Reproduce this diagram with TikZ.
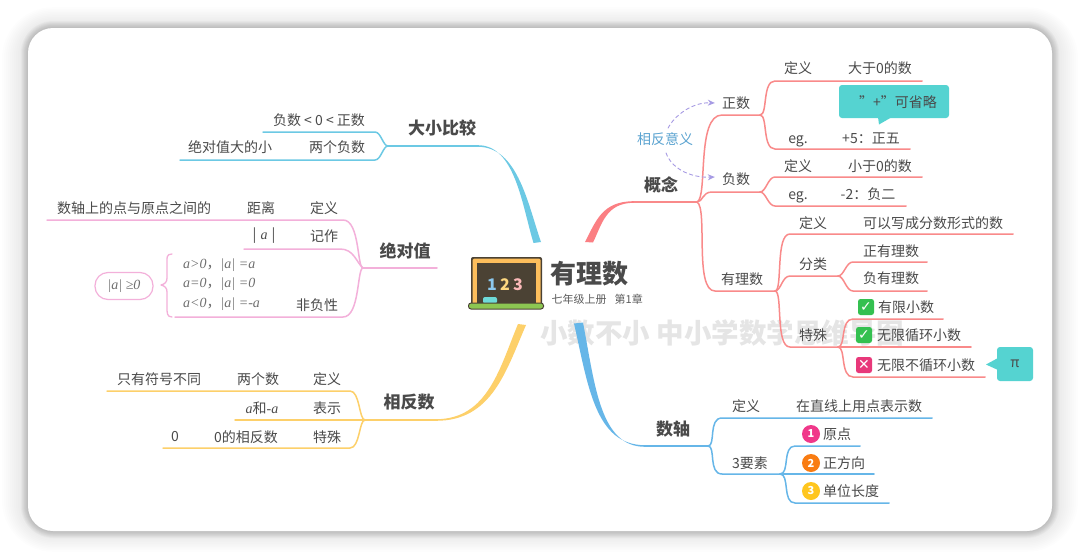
\documentclass[tikz,border=0pt]{standalone}
\usepackage{fontspec}
\setmainfont{Noto Sans CJK SC}
\newfontfamily\formfont{Liberation Serif}
\newfontfamily\symfont{DejaVu Sans}
\usetikzlibrary{arrows.meta,calc}
\definecolor{ink}{HTML}{4A4A4A}
\definecolor{cRed}{HTML}{F98A8A}
\definecolor{cRedT}{HTML}{FB7F83}
\definecolor{cSky}{HTML}{6CC9E4}
\definecolor{cPink}{HTML}{F3B0DA}
\definecolor{cYel}{HTML}{FDD06A}
\definecolor{cBlu}{HTML}{66B6E8}
\definecolor{cTeal}{HTML}{55D3D1}
\definecolor{cPur}{HTML}{A79BE4}
\definecolor{cFrame}{HTML}{FDBE5C}
\definecolor{cBoard}{HTML}{4B4234}
\definecolor{cBase}{HTML}{8CC652}
\definecolor{cOk}{HTML}{34C050}
\definecolor{cNo}{HTML}{E8387A}
\definecolor{cN1}{HTML}{F0388A}
\definecolor{cN2}{HTML}{F97C12}
\definecolor{cN3}{HTML}{FFC61E}
\newcommand{\fsz}[1]{\fontsize{#1}{#1}\selectfont}
\newcommand{\fm}[1]{{\formfont\itshape #1}}
\tikzset{
  x=1pt,y=-1pt,
  txt/.style={text=ink,font=\fsz{14},inner sep=0pt,anchor=center},
  head/.style={text=ink,font=\fsz{17}\bfseries,inner sep=0pt,anchor=center},
  frm/.style={text=ink!80,font=\fsz{14},inner sep=0pt,anchor=west},
  br/.style={line width=1.5pt,line cap=round,line join=round},
  callout/.style={fill=cTeal,draw=none,rounded corners=3pt},
  okbox/.style={fill=#1,draw=none,rounded corners=2.5pt,minimum size=16pt,inner sep=0pt},
  numdot/.style={circle,fill=#1,draw=none,minimum size=18pt,inner sep=0pt,text=white,font=\fsz{11}\bfseries},
  relarc/.style={-{Stealth[length=7pt,width=6pt]},cPur,line width=0.9pt,dash pattern=on 4pt off 2.5pt},
}
\begin{document}
\begin{tikzpicture}
\useasboundingbox (0,0) rectangle (1080,560);
\fill[white] (0,0) rectangle (1080,560);
% card shadow
\foreach \d in {26,24,...,2}{
  \pgfmathsetmacro{\rr}{25+\d}
  \fill[black,opacity=0.009,rounded corners=\rr pt] (28-\d,28-\d*0.8) rectangle (1052+\d,531+\d*0.8);
}
\foreach \d in {7,6,...,1}{
  \pgfmathsetmacro{\rr}{25+\d}
  \fill[black,opacity=0.022,rounded corners=\rr pt] (28-\d,28-\d) rectangle (1052+\d,531+\d);
}
\fill[white,rounded corners=25pt] (28,28) rectangle (1052,531);
% watermark
\node[text=black!10,font=\fsz{27.5}\bfseries,inner sep=0pt,anchor=west] (wm) at (540,333) {小数不小 中小学数学思维导图};

% ---- trunks
\fill[cSky] (533.5,243) .. controls (522,205) and (515,145.2) .. (478,145.2) -- (478,146.8) .. controls (518,146.8) and (528,205) .. (541,242) -- cycle;
\fill[cRedT] (585,242) .. controls (596,221) and (602,201.2) .. (634,201.2) -- (634,202.8) .. controls (606,202.8) and (602,224) .. (593,242.5) -- cycle;
\fill[cYel] (518,324) .. controls (500,367) and (488,419.2) .. (436,419.2) -- (436,420.8) .. controls (492,420.8) and (506,371) .. (526,325) -- cycle;
\fill[cBlu] (574,323.5) .. controls (588,385) and (595,445.2) .. (645,445.2) -- (645,446.8) .. controls (600,446.8) and (595,385) .. (583,322.5) -- cycle;

% ---- junctions (named points)
\coordinate (kS) at (478,146); \coordinate (kF) at (388,146);
\coordinate (k1a) at (375,132); \coordinate (k1b) at (263,132);
\coordinate (k2a) at (375,160); \coordinate (k2b) at (180,160);
\coordinate (jS) at (437,268); \coordinate (jF) at (363,268);
\coordinate (j1a) at (343,220); \coordinate (j1b) at (47,220);
\coordinate (j2a) at (340,249); \coordinate (j2b) at (244,249);
\coordinate (j3a) at (343,317); \coordinate (j3b) at (175,317);
\coordinate (xS) at (436,420); \coordinate (xF) at (365,420);
\coordinate (x1a) at (350,391); \coordinate (x1b) at (107,391);
\coordinate (x2b) at (235,420);
\coordinate (x3a) at (350,448); \coordinate (x3b) at (163,448);
\coordinate (gS) at (634,202); \coordinate (gF) at (697,202);
\coordinate (zF) at (760,115); \coordinate (z0) at (722,115);
\coordinate (z1a) at (775,81); \coordinate (z1b) at (922,81);
\coordinate (z2a) at (775,149); \coordinate (z2b) at (910,149);
\coordinate (fF) at (760,192); \coordinate (f0) at (712,192);
\coordinate (f1a) at (775,177); \coordinate (f1b) at (922,177);
\coordinate (f2a) at (775,206); \coordinate (f2b) at (906,206);
\coordinate (yF) at (775,291); \coordinate (y0) at (715,291);
\coordinate (y1a) at (790,234); \coordinate (y1b) at (1013,234);
\coordinate (y2a) at (790,276); \coordinate (y2F) at (838,276);
\coordinate (y3a) at (790,347); \coordinate (y3F) at (838,347);
\coordinate (c1a) at (853,262); \coordinate (c1b) at (927,262);
\coordinate (c2a) at (853,291); \coordinate (c2b) at (927,291);
\coordinate (s1a) at (853,319); \coordinate (s1b) at (943,319);
\coordinate (s2b) at (971,347);
\coordinate (s3a) at (853,377); \coordinate (s3b) at (985,377);
\coordinate (nS) at (645,446); \coordinate (nF) at (708,446);
\coordinate (n1a) at (722,418); \coordinate (n1b) at (932,418);
\coordinate (n2a) at (722,474); \coordinate (n2F) at (780,474);
\coordinate (m1a) at (795,446); \coordinate (m1b) at (860,446);
\coordinate (m2b) at (874,474);
\coordinate (m3a) at (795,503); \coordinate (m3b) at (889,503);

% ---- 大小比较
\draw[br,cSky] (kS) -- (kF);
\draw[br,cSky] (kF) .. controls (383,146) and (381,132) .. (k1a) -- (k1b);
\draw[br,cSky] (kF) .. controls (383,146) and (381,160) .. (k2a) -- (k2b);
% ---- 绝对值
\draw[br,cPink] (jS) -- (jF);
\draw[br,cPink] (jF) .. controls (357,268) and (360,220) .. (j1a) -- (j1b);
\draw[br,cPink] (jF) .. controls (356,262) and (354,249) .. (j2a) -- (j2b);
\draw[br,cPink] (jF) .. controls (357,268) and (360,317) .. (j3a) -- (j3b);
% ---- 相反数
\draw[br,cYel] (xS) -- (x2b);
\draw[br,cYel] (xF) .. controls (359,420) and (360,391) .. (x1a) -- (x1b);
\draw[br,cYel] (xF) .. controls (359,420) and (360,448) .. (x3a) -- (x3b);
% ---- 概念
\draw[br,cRed] (gS) -- (gF);
\draw[br,cRed] (gF) .. controls (708,198) and (696,115) .. (z0) -- (zF);
\draw[br,cRed] (gF) .. controls (703,202) and (702,192) .. (f0) -- (fF);
\draw[br,cRed] (gF) .. controls (708,208) and (694,291) .. (y0) -- (yF);
\draw[br,cRed] (zF) .. controls (768,115) and (762,81) .. (z1a) -- (z1b);
\draw[br,cRed] (zF) .. controls (768,115) and (762,149) .. (z2a) -- (z2b);
\draw[br,cRed] (fF) .. controls (766,192) and (768,177) .. (f1a) -- (f1b);
\draw[br,cRed] (fF) .. controls (766,192) and (768,206) .. (f2a) -- (f2b);
\draw[br,cRed] (yF) .. controls (783,291) and (775,234) .. (y1a) -- (y1b);
\draw[br,cRed] (yF) .. controls (781,291) and (782,276) .. (y2a) -- (y2F);
\draw[br,cRed] (yF) .. controls (783,291) and (775,347) .. (y3a) -- (y3F);
\draw[br,cRed] (y2F) .. controls (844,276) and (846,262) .. (c1a) -- (c1b);
\draw[br,cRed] (y2F) .. controls (844,276) and (846,291) .. (c2a) -- (c2b);
\draw[br,cRed] (y3F) .. controls (846,347) and (840,319) .. (s1a) -- (s1b);
\draw[br,cRed] (y3F) -- (s2b);
\draw[br,cRed] (y3F) .. controls (846,347) and (840,377) .. (s3a) -- (s3b);
% ---- 数轴
\draw[br,cBlu] (nS) -- (nF);
\draw[br,cBlu] (nF) .. controls (716,446) and (708,418) .. (n1a) -- (n1b);
\draw[br,cBlu] (nF) .. controls (716,446) and (708,474) .. (n2a) -- (n2F);
\draw[br,cBlu] (n2F) .. controls (790,474) and (782,446) .. (m1a) -- (m1b);
\draw[br,cBlu] (n2F) -- (m2b);
\draw[br,cBlu] (n2F) .. controls (790,474) and (782,503) .. (m3a) -- (m3b);

% ---- central
\fill[cBoard,rounded corners=2pt] (471,257) rectangle (542,306);
\fill[cFrame,rounded corners=1.5pt] (472.5,258.5) rectangle (540.5,305);
\fill[cBoard] (477,263) rectangle (536,303);
\node[inner sep=0pt,font=\fsz{16}\bfseries,text=cBlu!75!white] (b1) at (492,285) {1};
\node[inner sep=0pt,font=\fsz{16}\bfseries,text=cYel!85!white] (b2) at (505,285) {2};
\node[inner sep=0pt,font=\fsz{16}\bfseries,text=cRed!60!white] (b3) at (518,285) {3};
\fill[cTeal!85!white,rounded corners=2pt] (483,297) rectangle (497,303.5);
\fill[cBoard,rounded corners=3pt] (468,302.5) rectangle (544,309.5);
\fill[cBase,rounded corners=2.5pt] (469,303.5) rectangle (543,308.5);
\node[text=ink,font=\fsz{26}\bfseries,inner sep=0pt,anchor=center] (root) at (589,274) {有理数};
\node[text=ink!90,font=\fsz{11},inner sep=0pt,anchor=west] (sub) at (551.5,299.5) {七年级上册\hspace{8pt}第1章};

% ---- left labels
\node[head] (t1) at (442,128) {大小比较};
\node[txt] (a1) at (319,120) {负数 < 0 < 正数};
\node[txt] (a2) at (230,147.5) {绝对值大的小};
\node[txt] (a3) at (337,147.5) {两个负数};
\node[head] (t2) at (405,251) {绝对值};
\node[txt] (b01) at (134,208) {数轴上的点与原点之间的};
\node[txt] (b02) at (261,208) {距离};
\node[txt] (b03) at (324,208) {定义};
\node[txt] (b04) at (264,236) {|\hspace{4pt}\fm{a}\hspace{4pt}|};
\node[txt] (b05) at (324,236) {记作};
\node[txt] (b06) at (317,305) {非负性};
\node[frm] (b07) at (183,265) {\fm{a>0}，\fm{|a| =a}};
\node[frm] (b08) at (183,284) {\fm{a=0}，\fm{|a| =0}};
\node[frm] (b09) at (183,304) {\fm{a<0}，\fm{|a| =-a}};
\coordinate (brT) at (172,254); \coordinate (brB) at (172,317); \coordinate (brM) at (161,285);
\draw[cPink,line width=1.3pt,line cap=round,line join=round] (brT) .. controls (166,254) and (167,258) .. (167,264) -- (167,278) .. controls (167,282) and (165,284) .. (brM) .. controls (165,286) and (167,288) .. (167,292) -- (167,307) .. controls (167,313) and (167,317) .. (brB);
\node[draw=cPink,line width=1.2pt,rounded corners=13pt,minimum width=58pt,minimum height=27pt,inner sep=0pt,text=ink!80,font=\fsz{14}] (b10) at (124,286) {\fm{|a| ≥0}};
\node[head] (t3) at (409,402) {相反数};
\node[txt] (c01) at (159,379) {只有符号不同};
\node[txt] (c02) at (258,379) {两个数};
\node[txt] (c03) at (327,379) {定义};
\node[txt] (c04) at (262,408) {\fm{a}和\fm{-a}};
\node[txt] (c05) at (327,408) {表示};
\node[txt] (c06) at (175,437) {0};
\node[txt] (c07) at (246,437) {0的相反数};
\node[txt] (c08) at (327,437) {特殊};

% ---- right labels
\node[head] (t4) at (661,185) {概念};
\node[txt] (d01) at (736,103) {正数};
\node[txt] (d02) at (736,179) {负数};
\node[txt] (d03) at (742,279) {有理数};
\node[txt,text=cBlu!90!black] (d04) at (665,139) {相反意义};
\draw[relarc] ($(d04.north)+(3,-4)$) .. controls (674,116) and (692,102) .. ($(d01.west)+(-7,0)$);
\draw[relarc] ($(d04.south)+(1,7)$) .. controls (671,168) and (690,178) .. ($(d02.west)+(-7,-2)$);
\node[txt] (d05) at (798,68) {定义};
\node[txt] (d06) at (880,68) {大于0的数};
\path[callout] (839,85) rectangle (949,118);
\fill[cTeal] (878,117) -- (879,124.5) -- (892,117) -- cycle;
\node[txt] (d07) at (898,102) {”+”可省略};
\node[txt] (d08) at (798,141) {eg.};
\node[txt] (d09) at (871,138) {+5：正五};
\node[txt] (d10) at (798,166) {定义};
\node[txt] (d11) at (880,166) {小于0的数};
\node[txt] (d12) at (798,197) {eg.};
\node[txt] (d13) at (868,194) {-2：负二};
\node[txt] (d14) at (813,223) {定义};
\node[txt] (d15) at (933,223) {可以写成分数形式的数};
\node[txt] (d16) at (813,264) {分类};
\node[txt] (d17) at (891,251) {正有理数};
\node[txt] (d18) at (891,278) {负有理数};
\node[txt] (d19) at (813,335) {特殊};
\node[okbox=cOk] (e1) at (866,307) {\textcolor{white}{\symfont\fsz{14}\bfseries ✓}};
\node[txt] (e2) at (906,307) {有限小数};
\node[okbox=cOk] (e3) at (864,335) {\textcolor{white}{\symfont\fsz{14}\bfseries ✓}};
\node[txt] (e4) at (919,335) {无限循环小数};
\node[okbox=cNo] (e5) at (864,365) {\textcolor{white}{\symfont\fsz{14}\bfseries ✕}};
\node[txt] (e6) at (926,365) {无限不循环小数};
\path[callout] (997,347) rectangle (1033,381);
\fill[cTeal] (998,358) -- (986,364.5) -- (998,370) -- cycle;
\node[txt] (e7) at (1015,364) {π};
\node[head] (t5) at (673,429) {数轴};
\node[txt] (g1) at (746,406) {定义};
\node[txt] (g2) at (859,406) {在直线上用点表示数};
\node[txt] (g3) at (750,463) {3要素};
\node[numdot=cN1] (h1) at (811,434) {1};
\node[txt] (h2) at (837,434) {原点};
\node[numdot=cN2] (h3) at (811,463) {2};
\node[txt] (h4) at (844,463) {正方向};
\node[numdot=cN3] (h5) at (811,491) {3};
\node[txt] (h6) at (851,491) {单位长度};
\end{tikzpicture}
\end{document}
